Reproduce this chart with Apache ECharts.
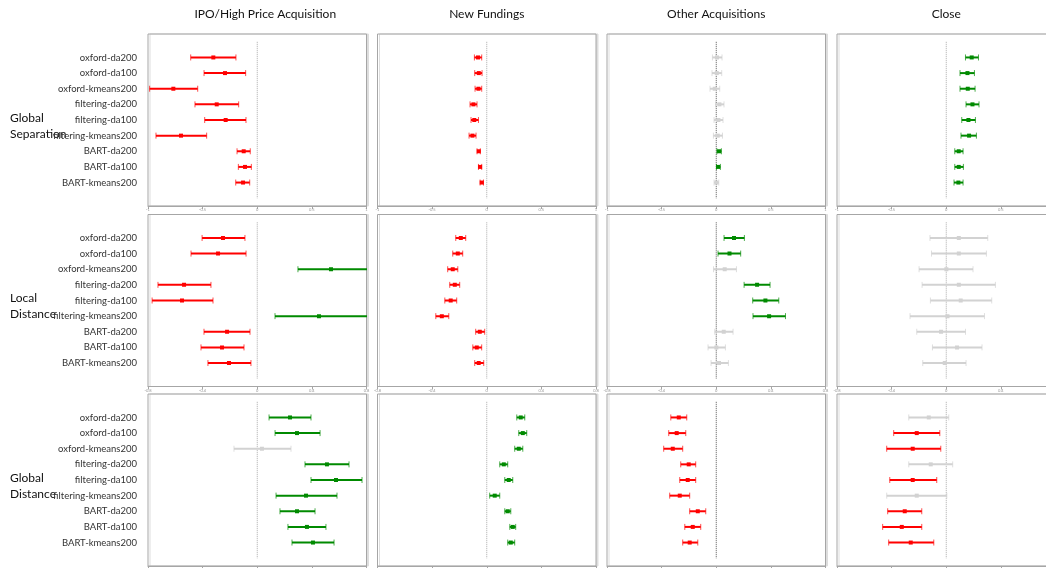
<!DOCTYPE html>
<html><head><meta charset="utf-8">
<script src="https://cdn.jsdelivr.net/npm/echarts@6/dist/echarts.min.js"></script>
<style>html,body{margin:0;padding:0;background:#fff}#c{width:1046px;height:568px}</style>
</head><body><div id="c"></div>
<script>
const categories = ['oxford-da200','oxford-da100','oxford-kmeans200','filtering-da200','filtering-da100','filtering-kmeans200','BART-da200','BART-da100','BART-kmeans200'];
const columns = ['IPO/High Price Acquisition','New Fundings','Other Acquisitions','Close'];
const rowNames = ['Global\nSeparation','Local\nDistance','Global\nDistance'];

// [low, estimate, high] per category
const gsIPO = [[-0.609,-0.402,-0.195],[-0.487,-0.295,-0.106],[-0.985,-0.768,-0.545],[-0.570,-0.371,-0.170],[-0.481,-0.289,-0.103],[-0.927,-0.698,-0.463],[-0.185,-0.124,-0.064],[-0.173,-0.112,-0.054],[-0.197,-0.130,-0.069]];
const gsNew = [[-0.113,-0.080,-0.046],[-0.110,-0.073,-0.043],[-0.107,-0.076,-0.046],[-0.153,-0.122,-0.089],[-0.144,-0.114,-0.076],[-0.162,-0.131,-0.098],[-0.089,-0.073,-0.059],[-0.076,-0.061,-0.046],[-0.061,-0.046,-0.030]];
const gsOther = [[-0.035,0.007,0.053],[-0.039,0.005,0.050],[-0.057,-0.014,0.032],[-0.007,0.029,0.071],[-0.020,0.020,0.062],[-0.026,0.014,0.057],[0.006,0.026,0.047],[0.002,0.017,0.038],[-0.020,0.002,0.023]];
const gsClose = [[0.176,0.233,0.295],[0.126,0.194,0.258],[0.126,0.197,0.264],[0.181,0.240,0.300],[0.142,0.203,0.267],[0.135,0.209,0.276],[0.078,0.114,0.154],[0.078,0.114,0.157],[0.071,0.111,0.154]];

const ldIPO = [[-0.404,-0.251,-0.090],[-0.485,-0.287,-0.082],[0.298,0.540,0.850],[-0.727,-0.536,-0.339],[-0.770,-0.551,-0.324],[0.130,0.452,0.850],[-0.390,-0.221,-0.053],[-0.412,-0.258,-0.097],[-0.361,-0.207,-0.046]];
const ldNew = [[-0.227,-0.190,-0.154],[-0.249,-0.212,-0.176],[-0.286,-0.249,-0.212],[-0.271,-0.234,-0.198],[-0.307,-0.264,-0.220],[-0.373,-0.329,-0.278],[-0.081,-0.051,-0.015],[-0.102,-0.073,-0.037],[-0.088,-0.059,-0.022]];
const ldOther = [[0.057,0.130,0.206],[0.013,0.097,0.179],[-0.020,0.062,0.148],[0.204,0.299,0.394],[0.267,0.360,0.458],[0.269,0.387,0.507],[-0.011,0.055,0.123],[-0.060,0.001,0.067],[-0.038,0.020,0.089]];
const ldClose = [[-0.119,0.092,0.304],[-0.108,0.092,0.294],[-0.199,0.001,0.196],[-0.177,0.092,0.360],[-0.116,0.106,0.333],[-0.265,0.009,0.280],[-0.216,-0.038,0.141],[-0.101,0.079,0.262],[-0.172,-0.011,0.145]];

const gdIPO = [[0.108,0.300,0.492],[0.163,0.364,0.575],[-0.213,0.043,0.309],[0.437,0.638,0.840],[0.492,0.721,0.959],[0.172,0.446,0.730],[0.208,0.364,0.529],[0.281,0.455,0.629],[0.318,0.510,0.703]];
const gdNew = [[0.275,0.311,0.348],[0.293,0.330,0.366],[0.256,0.293,0.330],[0.119,0.156,0.192],[0.165,0.201,0.238],[0.027,0.073,0.119],[0.165,0.192,0.220],[0.211,0.238,0.265],[0.192,0.220,0.256]];
const gdOther = [[-0.416,-0.343,-0.270],[-0.435,-0.362,-0.279],[-0.481,-0.398,-0.307],[-0.325,-0.252,-0.188],[-0.334,-0.261,-0.188],[-0.426,-0.334,-0.243],[-0.243,-0.169,-0.096],[-0.288,-0.215,-0.142],[-0.307,-0.243,-0.169]];
const gdClose = [[-0.343,-0.160,0.023],[-0.481,-0.270,-0.059],[-0.545,-0.307,-0.050],[-0.343,-0.142,0.059],[-0.517,-0.307,-0.087],[-0.545,-0.270,0.005],[-0.536,-0.380,-0.224],[-0.582,-0.407,-0.224],[-0.527,-0.325,-0.114]];

const panels = [[gsIPO,gsNew,gsOther,gsClose],[ldIPO,ldNew,ldOther,ldClose],[gdIPO,gdNew,gdOther,gdClose]];
const xLimit = [1, 0.8, 1];
const xStep = [0.5, 0.4, 0.5];

const RED = '#ff0000', GREEN = '#008a00', GRAY = '#d2d2d2';
const FONT = 'Lato, "Open Sans", sans-serif';

function renderBar(params, api) {
  const y = api.value(3);
  const lo = api.coord([api.value(0), y]);
  const mi = api.coord([api.value(1), y]);
  const hi = api.coord([api.value(2), y]);
  const col = api.value(2) < 0 ? RED : (api.value(0) > 0 ? GREEN : GRAY);
  return { type: 'group', children: [
    { type: 'line', shape: { x1: lo[0], y1: lo[1], x2: hi[0], y2: hi[1] }, style: { stroke: col, lineWidth: 2 } },
    { type: 'line', shape: { x1: lo[0], y1: lo[1] - 3, x2: lo[0], y2: lo[1] + 3 }, style: { stroke: col, lineWidth: 1, opacity: 0.7 } },
    { type: 'line', shape: { x1: hi[0], y1: hi[1] - 3, x2: hi[0], y2: hi[1] + 3 }, style: { stroke: col, lineWidth: 1, opacity: 0.7 } },
    { type: 'rect', shape: { x: mi[0] - 2, y: mi[1] - 2, width: 4, height: 4 }, style: { fill: col } }
  ]};
}

const grids = [], xAxes = [], yAxes = [], series = [], graphics = [];
const rowTop = [34, 214.5, 394];
const colLeft = [148, 377.5, 607, 837];
const panelW = 218.5, panelH = 172;

panels.forEach((row, r) => {
  row.forEach((vals, c) => {
    const gi = grids.length;
    grids.push({ left: colLeft[c], top: rowTop[r], width: panelW, height: panelH, show: true,
      outerBoundsMode: 'none', containLabel: false,
      borderColor: '#a6a6a6', borderWidth: 1, backgroundColor: '#fff',
      shadowColor: '#dddddd', shadowOffsetX: 2, shadowOffsetY: 0, shadowBlur: 0 });
    xAxes.push({ type: 'value', gridIndex: gi, min: -xLimit[r], max: xLimit[r], interval: xStep[r], position: 'bottom',
      axisLine: { show: true, onZero: false, lineStyle: { color: '#a6a6a6' } },
      axisTick: { show: true, length: 3, lineStyle: { color: '#a6a6a6' } },
      axisLabel: { fontSize: 4, color: '#999', margin: 2, fontFamily: FONT },
      splitLine: { show: false } });
    yAxes.push({ type: 'value', gridIndex: gi, inverse: true, min: -1.5, max: 9.5,
      axisLine: { show: false, onZero: false }, axisTick: { show: false }, splitLine: { show: false },
      axisLabel: c === 0 ? { show: true, customValues: categories.map((_, i) => i),
        formatter: v => categories[Math.round(v)] || '', fontSize: 9.5, color: '#333', margin: 11, fontFamily: FONT }
        : { show: false } });
    series.push({ type: 'line', xAxisIndex: gi, yAxisIndex: gi, data: [[0, -1], [0, 9]], symbol: 'none', silent: true,
      lineStyle: { type: 'dotted', width: 1, color: c === 2 ? '#555' : '#aaa' }, z: 1 });
    series.push({ type: 'custom', xAxisIndex: gi, yAxisIndex: gi, renderItem: renderBar, clip: true, z: 3,
      encode: { x: [0, 1, 2], y: 3 },
      data: vals.map((v, i) => [v[0], v[1], v[2], i]) });
  });
});

columns.forEach((t, c) => {
  graphics.push({ type: 'text', x: colLeft[c] + panelW / 2 + (c === 0 ? 8 : 0), y: 14,
    style: { text: t, fontSize: 12, fill: '#111', fontFamily: FONT, align: 'center', verticalAlign: 'middle' } });
});
rowNames.forEach((t, r) => {
  graphics.push({ type: 'text', x: 10, y: rowTop[r] + 92,
    style: { text: t, fontSize: 12, lineHeight: 16, fill: '#111', fontFamily: FONT, align: 'left', verticalAlign: 'middle' } });
});

const chart = echarts.init(document.getElementById('c'), null, { renderer: 'canvas' });
chart.setOption({ animation: false, backgroundColor: '#fff', grid: grids, xAxis: xAxes, yAxis: yAxes, series: series, graphic: graphics });
</script>
</body></html>
